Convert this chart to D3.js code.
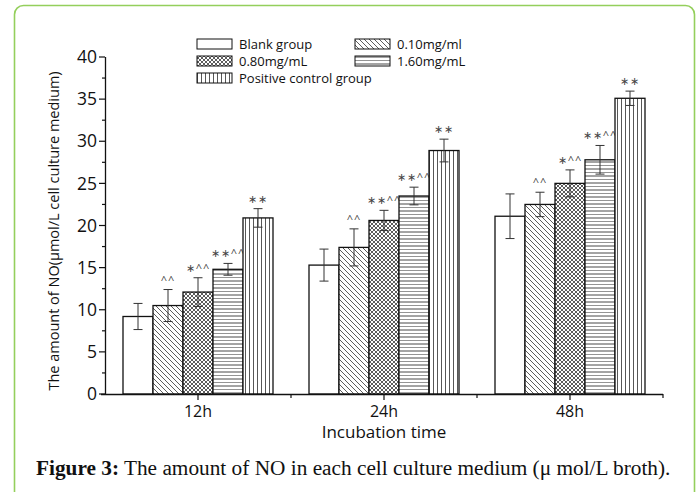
<!DOCTYPE html>
<html><head><meta charset="utf-8">
<script src="https://cdn.jsdelivr.net/npm/d3@7"></script>
<style>body{margin:0;background:#fff}svg{display:block}</style>
</head><body>
<svg id="c" width="698" height="492"></svg>
<script>
const categories = ["12h","24h","48h"];
const groups = ["Blank group","0.10mg/ml","0.80mg/mL","1.60mg/mL","Positive control group"];
const means = [
  [9.2, 10.5, 12.1, 14.8, 20.9],
  [15.3, 17.4, 20.6, 23.5, 28.9],
  [21.1, 22.5, 25.0, 27.8, 35.1]
];
const sds = [
  [1.55, 1.9, 1.7, 0.7, 1.1],
  [1.9, 2.2, 1.2, 1.05, 1.35],
  [2.65, 1.45, 1.6, 1.7, 0.85]
];
const marks = [
  ["", "^^", "*^^", "**^^", "**"],
  ["", "^^", "**^^", "**^^", "**"],
  ["", "^^", "*^^", "**^^", "**"]
];
const yTicks = [0,5,10,15,20,25,30,35,40];

const svg = d3.select("#c");
const font = "'Open Sans', 'Noto Sans', sans-serif";

// frame
svg.append("rect").attr("x",14.5).attr("y",5.5).attr("width",680).attr("height",520)
  .attr("rx",9).attr("fill","none").attr("stroke","#94cf5c").attr("stroke-width",1.6);

// patterns
const defs = svg.append("defs");
function pat(id, w, h, draw){
  const p = defs.append("pattern").attr("id",id).attr("patternUnits","userSpaceOnUse")
    .attr("width",w).attr("height",h);
  p.append("rect").attr("width",w).attr("height",h).attr("fill","#fff");
  draw(p);
}
pat("p1",5,5,p=>{
  p.append("path").attr("d","M-1,-1 L6,6 M-1,4 L1,6 M4,-1 L6,1").attr("stroke","#333").attr("stroke-width",0.8);
});
pat("p2",4,4,p=>{
  p.append("path").attr("d","M-1,-1 L5,5 M-1,3 L1,5 M3,-1 L5,1 M5,-1 L-1,5 M1,-1 L-1,1 M5,3 L3,5").attr("stroke","#333").attr("stroke-width",0.8);
});
pat("p3",8,7,p=>{
  p.append("path").attr("d","M0,1 H8").attr("stroke","#333").attr("stroke-width",0.9);
  p.append("path").attr("d","M0,4.5 H8").attr("stroke","#888").attr("stroke-width",0.9);
});
pat("p4",4,8,p=>{
  p.append("path").attr("d","M1.5,0 V8").attr("stroke","#444").attr("stroke-width",0.9);
});
const fills = ["#fff","url(#p1)","url(#p2)","url(#p3)","url(#p4)"];

const x0 = d3.scaleBand().domain(categories).range([105,663]).padding(0);
const x1 = d3.scaleBand().domain(groups).range([18,168]).padding(0);
const y = d3.scaleLinear().domain([0,40]).range([394,57]);

// bars
const g = svg.append("g");
categories.forEach((c,ci)=>{
  groups.forEach((gr,gi)=>{
    const bx = x0(c)+x1(gr), bw = x1.bandwidth();
    const m = means[ci][gi], s = sds[ci][gi];
    g.append("rect").attr("x",bx).attr("y",y(m)).attr("width",bw).attr("height",y(0)-y(m))
      .attr("fill",fills[gi]).attr("stroke","#111").attr("stroke-width",1.3);
    const cx = bx+bw/2;
    const eb = g.append("g").attr("stroke","#333").attr("stroke-width",1);
    eb.append("line").attr("x1",cx).attr("x2",cx).attr("y1",y(m+s)).attr("y2",y(m-s));
    eb.append("line").attr("x1",cx-4.5).attr("x2",cx+4.5).attr("y1",y(m+s)).attr("y2",y(m+s));
    eb.append("line").attr("x1",cx-4.5).attr("x2",cx+4.5).attr("y1",y(m-s)).attr("y2",y(m-s));
    if(marks[ci][gi]){
      g.append("text").attr("x",cx).attr("y",y(m+s)-6).attr("text-anchor","middle")
        .attr("font-family",font).attr("font-size",11).attr("fill","#444")
        .attr("letter-spacing",1)
        .text(marks[ci][gi].replace(/\*/g,"\u2217"));
    }
  });
});

// y axis
svg.append("line").attr("x1",105.5).attr("x2",105.5).attr("y1",57).attr("y2",394.5).attr("stroke","#111").attr("stroke-width",1.3);
d3.range(0,40.1,2.5).forEach(v=>{
  const major = v%5===0;
  svg.append("line").attr("x1",105).attr("x2",major?99:102).attr("y1",y(v)).attr("y2",y(v)).attr("stroke","#111").attr("stroke-width",1.2);
});
yTicks.forEach(v=>{
  svg.append("text").attr("x",97).attr("y",y(v)).attr("dy","0.35em").attr("text-anchor","end")
    .attr("font-family",font).attr("font-size",17.5).attr("fill","#111").text(v);
});

// x axis
svg.append("line").attr("x1",101).attr("x2",663).attr("y1",394.5).attr("y2",394.5).attr("stroke","#111").attr("stroke-width",1.3);
categories.forEach(c=>{
  const cx = x0(c)+x0.bandwidth()/2;
  svg.append("line").attr("x1",cx).attr("x2",cx).attr("y1",394).attr("y2",400).attr("stroke","#111").attr("stroke-width",1.2);
  svg.append("text").attr("x",cx).attr("y",417).attr("text-anchor","middle")
    .attr("font-family",font).attr("font-size",16).attr("fill","#111").text(c);
});
categories.slice(1).forEach(c=>{
  svg.append("line").attr("x1",x0(c)).attr("x2",x0(c)).attr("y1",394).attr("y2",398).attr("stroke","#111").attr("stroke-width",1.2);
});
svg.append("line").attr("x1",663).attr("x2",663).attr("y1",394).attr("y2",398).attr("stroke","#111").attr("stroke-width",1.2);

svg.append("text").attr("x",384).attr("y",438).attr("text-anchor","middle")
  .attr("font-family",font).attr("font-size",17).attr("fill","#111").text("Incubation time");

svg.append("text").attr("transform","translate(59,231) rotate(-90)").attr("text-anchor","middle")
  .attr("font-family",font).attr("font-size",14.5).attr("fill","#111")
  .text("The amount of NO(\u03bcmol/L cell culture medium)");

// legend
const leg = [
  {i:0,x:197,y:39},{i:1,x:355,y:39},
  {i:2,x:197,y:56},{i:3,x:355,y:56},
  {i:4,x:197,y:73}
];
leg.forEach(l=>{
  svg.append("rect").attr("x",l.x).attr("y",l.y).attr("width",35).attr("height",10)
    .attr("fill",fills[l.i]).attr("stroke","#111").attr("stroke-width",1);
  svg.append("text").attr("x",l.x+42).attr("y",l.y+5).attr("dy","0.35em")
    .attr("font-family",font).attr("font-size",13).attr("fill","#111").text(groups[l.i]);
});

// caption
const cap = svg.append("text").attr("x",36).attr("y",475).attr("font-family","'Liberation Serif','Times New Roman',serif")
  .attr("font-size",21.3).attr("fill","#111");
cap.append("tspan").attr("font-weight","bold").text("Figure 3:");
cap.append("tspan").text(" The amount of NO in each cell culture medium (\u03bc mol/L broth).");
</script>
</body></html>
